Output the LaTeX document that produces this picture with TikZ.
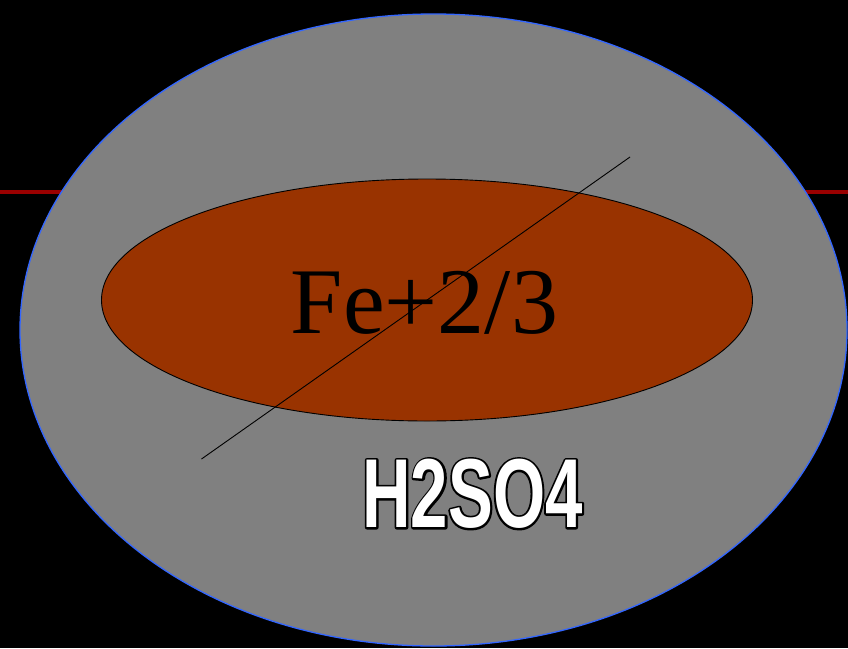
\documentclass[tikz,border=0pt]{standalone}
\usepackage{fontspec}
\setmainfont{Liberation Serif}
\newfontfamily\saeurefont[FakeStretch=0.685]{Liberation Sans Bold}
\usetikzlibrary{positioning}
\definecolor{rost}{HTML}{993300}
\definecolor{grau}{HTML}{808080}
\definecolor{rand}{HTML}{3366FF}
\definecolor{dunkelrot}{HTML}{9A0000}
\newcommand{\umriss}[1]{\special{pdf:literal direct 1 Tr 4 w 1 j 0 0 0 RG}#1\special{pdf:literal direct 0 Tr 1 w 0 j}}
\tikzset{
	saeure/.style={anchor=base, inner sep=0, text=white, font=\saeurefont\fontsize{98}{98}\selectfont}
}

\begin{document}
\begin{tikzpicture}[x=1pt,y=-1pt]
		%Hintergrund
		\fill [black] (0,0) rectangle (848,648);
		\useasboundingbox (0,0) rectangle (848,648);

		%Rote Linie
		\draw [dunkelrot, line width=4pt] (0,192) -- (848,192);

		%Loesung
		\filldraw [fill=grau, draw=rand, line width=1.3pt] (433.5,330) ellipse [x radius=413.5, y radius=316];

		%Eisen
		\filldraw [fill=rost, draw=black, line width=0.9pt] (427,300) ellipse [x radius=325.5, y radius=121];
		\node [anchor=base, inner sep=0, font=\fontsize{94}{94}\selectfont] (fe) at (424.5,333) {Fe+2/3};

		%Strich
		\coordinate (A) at (201.5,459);
		\coordinate (B) at (630,157);
		\draw [line width=0.9pt] (A) -- (B);

		%Schrift mit Rand
		\node [saeure, text=black] (rand) at (472.5,527.5) {\umriss{H2SO4}};
		\node [saeure] (saeure) at (472.5,527.5) {H2SO4};
\end{tikzpicture}
\end{document}
